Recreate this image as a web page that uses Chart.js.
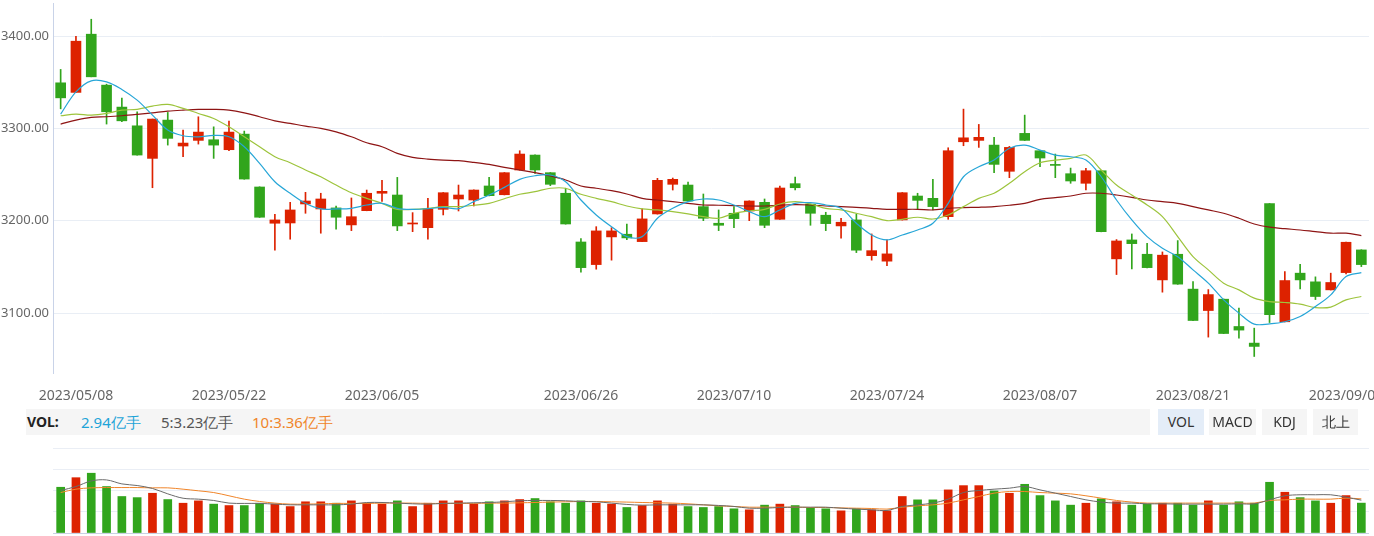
<!DOCTYPE html>
<html><head><meta charset="utf-8">
<script src="https://cdn.jsdelivr.net/npm/chart.js@4.4.0/dist/chart.umd.min.js"></script>
<style>
html,body{margin:0;padding:0;background:#fff;width:1374px;height:536px;overflow:hidden;font-family:"Noto Sans",sans-serif;}
#hdr{position:absolute;left:26px;top:409px;width:1124px;height:26px;background:#f5f5f5;}
.ht{position:absolute;top:0;line-height:26px;font-size:15px;white-space:nowrap;}
.btn{position:absolute;top:409px;height:26px;line-height:26px;background:#f5f5f5;color:#333;font-size:14px;text-align:center;}
</style></head>
<body>
<canvas id="price" width="1374" height="410" style="position:absolute;left:0;top:0;"></canvas>
<div id="hdr">
  <span class="ht" style="left:1px;font-weight:bold;color:#222;font-size:14px;">VOL:</span>
  <span class="ht" style="left:55px;color:#1ea4d8;">2.94亿手</span>
  <span class="ht" style="left:135px;color:#555;">5:3.23亿手</span>
  <span class="ht" style="left:226px;color:#f0852a;">10:3.36亿手</span>
</div>
<div class="btn" style="left:1158px;width:46px;background:#e4edf8;">VOL</div>
<div class="btn" style="left:1209px;width:47px;">MACD</div>
<div class="btn" style="left:1262px;width:45px;">KDJ</div>
<div class="btn" style="left:1313px;width:45px;">北上</div>
<canvas id="vol" width="1374" height="96" style="position:absolute;left:0;top:440px;"></canvas>
<script>
const categories = [
'2023/05/05',
'2023/05/08','2023/05/09','2023/05/10','2023/05/11','2023/05/12',
'2023/05/15','2023/05/16','2023/05/17','2023/05/18','2023/05/19',
'2023/05/22','2023/05/23','2023/05/24','2023/05/25','2023/05/26',
'2023/05/29','2023/05/30','2023/05/31','2023/06/01','2023/06/02',
'2023/06/05','2023/06/06','2023/06/07','2023/06/08','2023/06/09',
'2023/06/12','2023/06/13','2023/06/14','2023/06/15','2023/06/16',
'2023/06/19','2023/06/20','2023/06/21',
'2023/06/26','2023/06/27','2023/06/28','2023/06/29','2023/06/30',
'2023/07/03','2023/07/04','2023/07/05','2023/07/06','2023/07/07',
'2023/07/10','2023/07/11','2023/07/12','2023/07/13','2023/07/14',
'2023/07/17','2023/07/18','2023/07/19','2023/07/20','2023/07/21',
'2023/07/24','2023/07/25','2023/07/26','2023/07/27','2023/07/28',
'2023/07/31','2023/08/01','2023/08/02','2023/08/03','2023/08/04',
'2023/08/07','2023/08/08','2023/08/09','2023/08/10','2023/08/11',
'2023/08/14','2023/08/15','2023/08/16','2023/08/17','2023/08/18',
'2023/08/21','2023/08/22','2023/08/23','2023/08/24','2023/08/25',
'2023/08/28','2023/08/29','2023/08/30','2023/08/31','2023/09/01',
'2023/09/04','2023/09/05'];

const tickLabels = ['2023/05/08','2023/05/22','2023/06/05','2023/06/26','2023/07/10','2023/07/24','2023/08/07','2023/08/21','2023/09/04'];
const priceTicks = [3100, 3200, 3300, 3400];

const openP = [3349.5,3339.1,3402.2,3347.0,3323.2,3302.9,3267.6,3309.1,3281.0,3287.1,
3287.8,3277.0,3293.9,3236.6,3197.3,3197.6,3218.2,3212.8,3213.9,3195.5,
3210.9,3229.8,3227.9,3196.5,3192.5,3212.4,3223.6,3222.5,3237.7,3228.2,
3255.0,3271.2,3252.1,3229.8,3177.0,3152.5,3182.5,3185.4,3177.4,3207.4,
3239.5,3238.7,3215.3,3197.3,3208.1,3210.6,3220.0,3201.6,3240.2,3217.9,
3206.0,3194.4,3200.9,3162.2,3156.2,3200.9,3226.8,3224.3,3204.4,3285.6,
3287.1,3282.0,3253.6,3294.7,3275.9,3260.7,3251.0,3240.6,3254.2,3158.7,
3179.2,3163.7,3135.9,3163.7,3125.9,3102.7,3115.0,3085.4,3067.4,3218.5,
3090.5,3143.2,3133.8,3125.1,3143.8,3168.4];
const highP = [3364.0,3400.0,3418.4,3348.0,3332.9,3318.1,3310.2,3317.4,3298.3,3312.7,
3301.8,3308.0,3297.2,3236.8,3207.0,3220.0,3230.8,3229.8,3216.0,3224.7,
3233.3,3243.8,3247.0,3208.8,3224.3,3230.6,3238.7,3233.5,3247.0,3252.3,
3275.9,3271.4,3252.3,3235.2,3180.6,3193.6,3192.5,3196.5,3212.8,3246.0,
3246.3,3242.0,3229.0,3211.7,3215.3,3221.6,3223.6,3237.7,3247.4,3218.1,
3209.2,3202.7,3207.4,3185.7,3179.2,3230.6,3229.8,3244.9,3279.1,3321.0,
3304.4,3290.4,3280.6,3314.5,3276.1,3272.3,3257.1,3256.8,3254.4,3179.6,
3185.7,3175.6,3166.2,3178.5,3134.1,3125.4,3115.2,3105.3,3083.6,3218.7,
3144.9,3152.9,3139.2,3143.2,3177.0,3168.6];
const lowP = [3321.3,3339.0,3356.0,3304.8,3307.3,3271.0,3235.8,3282.0,3269.4,3283.1,
3267.6,3275.9,3245.0,3203.6,3168.1,3180.0,3208.1,3186.5,3190.8,3189.3,
3210.8,3221.0,3189.3,3188.2,3180.0,3206.3,3210.6,3216.0,3227.0,3228.0,
3254.8,3251.4,3238.0,3196.3,3144.3,3147.5,3157.3,3179.6,3177.2,3207.2,
3233.3,3221.2,3200.1,3189.3,3192.5,3200.1,3192.5,3201.4,3233.3,3195.1,
3189.3,3181.0,3165.5,3157.3,3151.4,3200.7,3212.8,3211.7,3201.6,3281.3,
3279.5,3252.1,3246.7,3286.9,3258.6,3246.7,3240.6,3233.3,3188.0,3141.7,
3147.8,3149.0,3122.6,3131.1,3091.7,3073.9,3077.6,3072.8,3052.9,3089.7,
3090.3,3126.2,3114.6,3124.9,3142.4,3150.3];
const closeP = [3333.2,3394.6,3356.0,3318.1,3308.3,3271.2,3310.2,3289.3,3284.2,3296.1,
3282.0,3296.1,3245.2,3203.8,3200.9,3211.7,3221.4,3223.6,3203.8,3204.4,
3229.8,3231.9,3194.4,3197.6,3212.8,3230.4,3227.9,3233.3,3227.2,3252.1,
3272.3,3255.0,3239.5,3196.5,3149.2,3189.0,3189.0,3181.4,3202.0,3243.8,
3244.9,3221.4,3202.7,3195.1,3202.3,3221.4,3195.1,3235.5,3235.8,3208.1,
3196.9,3198.4,3168.1,3167.6,3164.1,3230.4,3222.1,3215.3,3275.9,3289.9,
3290.4,3261.1,3279.5,3287.1,3268.0,3260.0,3243.1,3254.2,3188.2,3178.1,
3175.2,3149.2,3162.7,3131.3,3091.9,3120.0,3077.8,3081.5,3063.8,3098.1,
3135.2,3135.9,3117.9,3133.1,3176.7,3152.5];

const ma5 = [3315.6,3339.7,3351.6,3350.5,3342.3,3330.7,3314.5,3298.3,3292.1,3291.0,
3292.5,3291.0,3280.2,3262.2,3242.3,3229.8,3218.9,3212.8,3212.8,3213.5,
3217.1,3218.9,3213.5,3212.4,3213.1,3214.6,3213.1,3220.7,3227.9,3236.2,
3244.9,3248.8,3249.6,3242.3,3222.5,3206.3,3193.6,3182.8,3182.8,3202.7,
3213.5,3220.7,3223.6,3222.5,3217.1,3209.9,3204.4,3211.7,3218.9,3219.6,
3217.1,3213.5,3197.3,3184.6,3179.2,3184.6,3190.0,3197.3,3218.9,3247.7,
3258.6,3265.8,3278.5,3282.0,3276.6,3271.2,3269.4,3265.8,3247.7,3222.5,
3200.9,3182.8,3170.2,3161.1,3146.8,3132.4,3114.3,3099.9,3088.0,3088.3,
3090.5,3096.2,3107.0,3119.7,3139.5,3143.8];
const ma10 = [3313.8,3315.6,3314.5,3316.3,3319.9,3320.7,3324.2,3326.1,3321.8,3316.3,
3310.9,3301.8,3291.0,3280.2,3269.4,3262.9,3255.0,3247.7,3238.7,3230.4,
3224.3,3218.9,3212.4,3212.4,3213.5,3215.3,3215.3,3216.8,3218.9,3223.9,
3228.7,3231.5,3235.2,3235.2,3228.7,3224.3,3220.7,3216.0,3212.8,3211.7,
3209.9,3207.4,3204.4,3202.7,3208.1,3210.6,3212.4,3218.2,3220.7,3218.2,
3213.5,3211.7,3208.1,3204.4,3200.1,3201.6,3203.8,3201.9,3206.3,3215.3,
3224.3,3229.8,3240.6,3253.1,3262.9,3265.8,3267.6,3271.2,3255.0,3238.7,
3227.9,3217.1,3204.4,3182.8,3161.1,3146.8,3132.4,3125.1,3116.1,3112.4,
3111.4,3109.6,3105.9,3106.4,3114.3,3117.9];
const ma30 = [3304.8,3309.1,3312.0,3312.7,3313.8,3315.3,3317.0,3318.8,3319.9,3320.7,
3320.7,3319.9,3317.0,3312.7,3308.3,3305.5,3302.6,3300.1,3296.4,3291.0,
3284.5,3280.2,3273.0,3268.7,3266.9,3265.8,3265.1,3263.3,3261.1,3257.9,
3255.0,3252.1,3248.5,3244.2,3237.7,3235.2,3232.6,3229.0,3224.3,3222.5,
3220.7,3218.9,3217.1,3216.8,3216.4,3216.0,3216.0,3216.8,3217.5,3217.1,
3216.0,3215.3,3214.6,3213.5,3212.4,3212.4,3212.4,3211.7,3213.5,3214.2,
3214.6,3215.3,3216.8,3218.9,3223.2,3225.0,3226.8,3229.8,3229.8,3227.9,
3225.4,3222.5,3220.7,3218.9,3215.3,3211.7,3208.1,3202.7,3196.5,3193.0,
3191.4,3190.0,3188.2,3186.5,3186.5,3183.9];

const volume = [4.50,5.44,5.88,4.57,3.59,3.48,3.91,3.29,2.93,3.16,
2.84,2.70,2.70,2.93,2.84,2.60,3.07,3.07,2.93,3.16,
2.93,2.84,3.16,2.60,2.93,3.16,3.16,2.84,3.07,3.16,
3.29,3.39,3.07,2.93,3.16,2.93,2.84,2.51,2.70,3.16,
2.84,2.60,2.51,2.60,2.38,2.28,2.74,2.84,2.70,2.51,
2.38,2.18,2.38,2.28,2.18,3.59,3.26,3.26,4.24,4.66,
4.66,4.14,3.91,4.79,3.68,3.16,2.74,2.93,3.36,3.07,
2.74,2.84,2.93,2.93,2.74,3.16,2.74,3.07,2.93,4.99,
4.01,3.48,3.16,2.93,3.68,2.94];
const volMa5 = [4.18,4.57,5.12,5.22,4.83,4.67,4.38,3.85,3.42,3.33,
3.20,2.94,2.91,2.91,2.84,2.77,2.77,2.77,2.77,2.84,
3.00,3.00,2.94,2.87,2.84,2.91,2.94,2.97,3.00,3.07,
3.17,3.20,3.20,3.17,3.10,3.07,2.94,2.81,2.74,2.77,
2.77,2.77,2.77,2.71,2.61,2.44,2.44,2.51,2.54,2.54,
2.54,2.44,2.35,2.28,2.22,2.61,2.77,2.94,3.33,3.98,
4.18,4.31,4.41,4.57,4.24,3.92,3.59,3.26,3.04,2.94,
2.94,2.87,2.87,2.84,2.84,2.84,2.84,2.87,2.87,3.26,
3.66,3.76,3.76,3.76,3.52,3.23];
const volMa10 = [3.98,4.31,4.44,4.47,4.47,4.47,4.44,4.44,4.31,4.15,
3.98,3.66,3.33,3.10,2.94,2.84,2.84,2.87,2.91,2.91,
2.91,2.94,2.94,2.94,2.91,2.91,2.91,2.91,2.94,2.94,
2.97,3.00,3.04,3.07,3.10,3.10,3.07,3.04,3.00,2.97,
2.94,2.87,2.77,2.67,2.61,2.54,2.54,2.54,2.54,2.51,
2.51,2.47,2.44,2.41,2.35,2.54,2.67,2.77,2.94,3.26,
3.59,3.92,4.08,4.08,3.98,3.92,3.85,3.66,3.43,3.20,
3.04,2.94,2.94,2.94,2.94,2.94,2.94,2.94,2.94,3.20,
3.26,3.33,3.33,3.33,3.43,3.36];

const upColor = '#dd2200';
const downColor = '#31a51c';
const candleColor = (c) => closeP[c.dataIndex] >= openP[c.dataIndex] ? upColor : downColor;

const bodies = categories.map((_, i) => [openP[i], closeP[i]]);
const wicks = categories.map((_, i) => [lowP[i], highP[i]]);

const lineDs = (data, color, w) => ({type:'line', data, borderColor:color, borderWidth:w, pointRadius:0, pointHoverRadius:0, tension:0.35, fill:false, order:0});

new Chart(document.getElementById('price'), {
  type:'bar',
  data:{labels:categories, datasets:[
    lineDs(ma5, '#27a6d7', 1.2),
    lineDs(ma10, '#9dc43c', 1.2),
    lineDs(ma30, '#8e1414', 1.2),
    {data:bodies, backgroundColor:candleColor, barThickness:10, grouped:false, minBarLength:1, order:1},
    {data:wicks, backgroundColor:candleColor, barThickness:1, grouped:false, order:2}
  ]},
  options:{
    responsive:false, animation:false,
    layout:{padding:{top:3, right:5, left:0, bottom:0}},
    plugins:{legend:{display:false}, tooltip:{enabled:false}},
    scales:{
      x:{offset:true, grid:{display:false, drawTicks:false}, border:{display:false},
        ticks:{autoSkip:false, maxRotation:0, minRotation:0, padding:15, color:'#666',
          font:{family:'Noto Sans', size:14},
          callback:function(v, i){ const l = categories[i]; return tickLabels.includes(l) ? l : ''; }},
        afterFit:(s)=>{ s.height = 37; s.paddingLeft = 0; s.paddingRight = 0; }},
      y:{min:3035, max:3436,
        afterBuildTicks:(s)=>{ s.ticks = priceTicks.map(v=>({value:v})); },
        grid:{color:'#e9eef5', drawTicks:false},
        border:{color:'#c9d3e8'},
        ticks:{padding:4, color:'#666', font:{family:'Noto Sans', size:13}, callback:(v)=>Number(v).toFixed(2)},
        afterFit:(s)=>{ s.width = 53; s.paddingTop = 0; s.paddingBottom = 0; }}
    }
  }
});

new Chart(document.getElementById('vol'), {
  type:'bar',
  data:{labels:categories, datasets:[
    lineDs(volMa5, '#6a6a6a', 1),
    lineDs(volMa10, '#f0852a', 1),
    {data:volume, backgroundColor:candleColor, barThickness:8, order:1}
  ]},
  options:{
    responsive:false, animation:false,
    layout:{padding:{top:8, right:5, left:0, bottom:3}},
    plugins:{legend:{display:false}, tooltip:{enabled:false}},
    scales:{
      x:{display:false, offset:true},
      y:{min:0, max:8.36, ticks:{display:false, count:5},
        grid:{drawTicks:false, color:(c)=> (c.tick && c.tick.value === 0) ? '#c8d2e4' : '#eaeef5'},
        border:{display:false},
        afterFit:(s)=>{ s.width = 53; s.paddingTop = 0; s.paddingBottom = 0; }}
    }
  }
});
</script>
</body></html>
